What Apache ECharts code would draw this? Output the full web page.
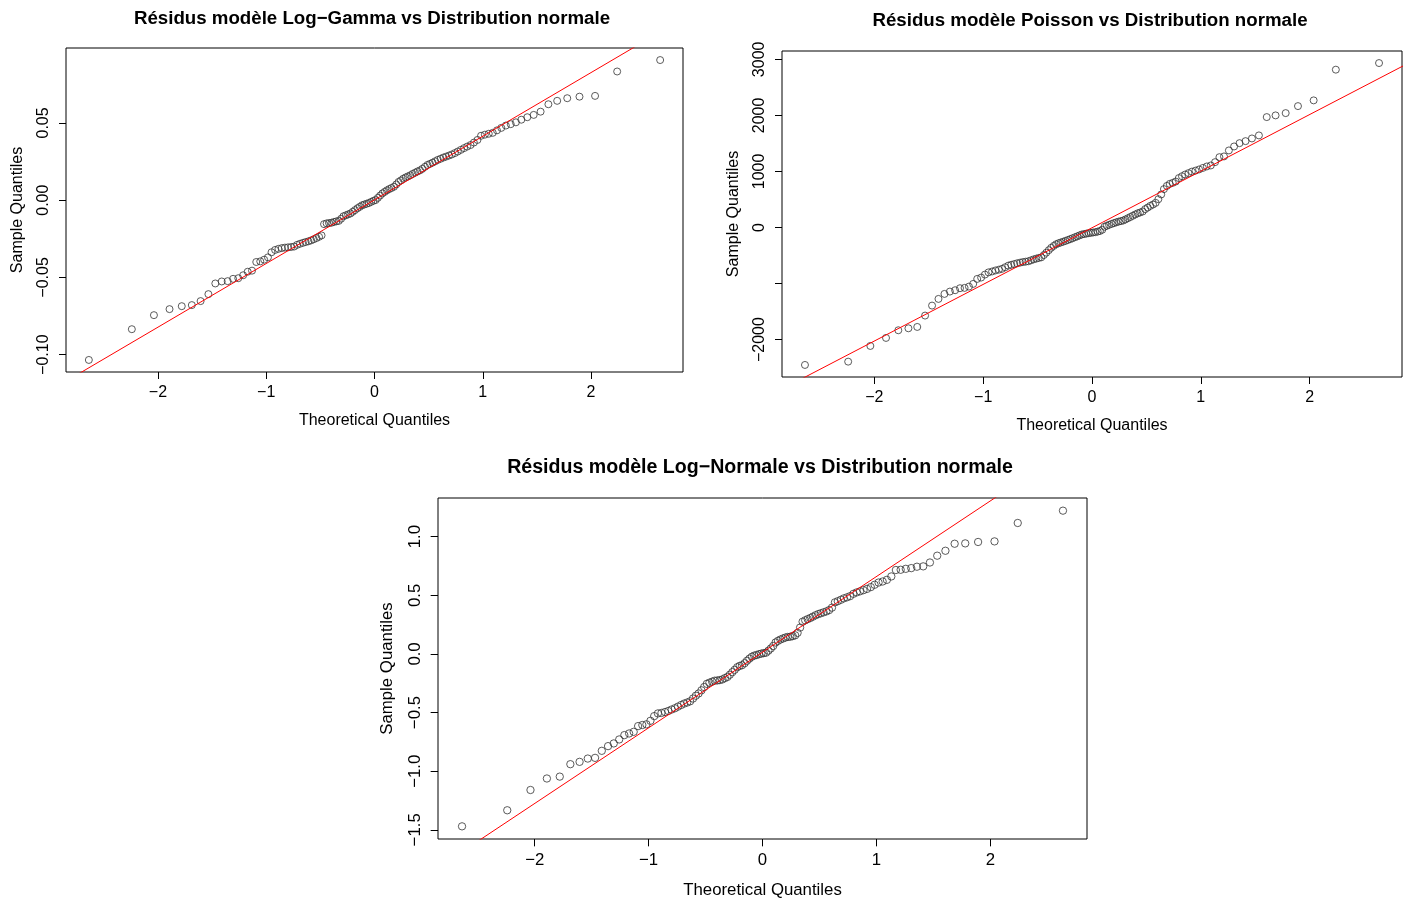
<!DOCTYPE html>
<html><head><meta charset="utf-8">
<script src="https://cdn.jsdelivr.net/npm/echarts@6/dist/echarts.min.js"></script>
<style>html,body{margin:0;padding:0;background:#fff}#c{width:1413px;height:900px}</style>
</head><body><div id="c"></div>
<script>
// Theoretical normal quantiles (n = 120)
const theoQ = [
-2.638,-2.241,-2.037,-1.893,-1.780,-1.687,-1.606,-1.534,-1.470,-1.411,
-1.356,-1.306,-1.258,-1.213,-1.171,-1.131,-1.092,-1.055,-1.019,-0.984,
-0.951,-0.918,-0.887,-0.856,-0.827,-0.798,-0.769,-0.742,-0.714,-0.688,
-0.661,-0.636,-0.610,-0.585,-0.561,-0.536,-0.512,-0.489,-0.466,-0.442,
-0.420,-0.397,-0.375,-0.352,-0.330,-0.308,-0.287,-0.265,-0.244,-0.222,
-0.201,-0.180,-0.157,-0.136,-0.115,-0.094,-0.073,-0.052,-0.031,-0.010,
0.010,0.031,0.052,0.073,0.094,0.115,0.136,0.157,0.180,0.201,
0.222,0.244,0.265,0.287,0.308,0.330,0.352,0.375,0.397,0.420,
0.442,0.466,0.489,0.512,0.536,0.561,0.585,0.610,0.636,0.661,
0.688,0.714,0.742,0.769,0.798,0.827,0.856,0.887,0.918,0.951,
0.984,1.019,1.055,1.092,1.131,1.171,1.213,1.258,1.306,1.356,
1.411,1.470,1.534,1.606,1.687,1.780,1.893,2.037,2.241,2.638];

const resGamma = [
-0.1034,-0.0835,-0.0744,-0.0705,-0.0686,-0.0679,-0.0653,-0.0608,-0.0539,-0.0526,
-0.0524,-0.0509,-0.0505,-0.0486,-0.0463,-0.0456,-0.0400,-0.0396,-0.0385,-0.0370,
-0.0337,-0.0322,-0.0315,-0.0310,-0.0307,-0.0305,-0.0303,-0.0300,-0.0289,-0.0282,
-0.0276,-0.0271,-0.0266,-0.0260,-0.0253,-0.0245,-0.0237,-0.0228,-0.0155,-0.0150,
-0.0148,-0.0146,-0.0141,-0.0137,-0.0134,-0.0120,-0.0104,-0.0098,-0.0092,-0.0086,
-0.0075,-0.0064,-0.0052,-0.0043,-0.0033,-0.0028,-0.0023,-0.0018,-0.0011,-0.0004,
0.0001,0.0015,0.0030,0.0044,0.0054,0.0064,0.0072,0.0079,0.0087,0.0102,
0.0118,0.0128,0.0139,0.0147,0.0154,0.0161,0.0170,0.0178,0.0186,0.0193,
0.0203,0.0216,0.0228,0.0235,0.0243,0.0252,0.0261,0.0268,0.0276,0.0282,
0.0289,0.0296,0.0305,0.0315,0.0326,0.0337,0.0347,0.0357,0.0373,0.0390,
0.0417,0.0424,0.0430,0.0436,0.0452,0.0468,0.0483,0.0492,0.0504,0.0521,
0.0537,0.0552,0.0573,0.0621,0.0643,0.0660,0.0670,0.0675,0.0833,0.0907];

const resPoisson = [
-2452,-2393,-2113,-1970,-1833,-1798,-1774,-1571,-1393,-1274,
-1185,-1143,-1119,-1083,-1077,-1054,-1006,-917,-893,-840,
-800,-784,-766,-752,-737,-709,-680,-665,-652,-638,
-627,-617,-610,-602,-586,-568,-555,-543,-532,-491,
-449,-404,-362,-328,-299,-281,-267,-253,-239,-223,
-208,-192,-174,-158,-141,-125,-117,-109,-101,-95,
-89,-83,-73,-62,-40,14,31,48,64,78,
92,105,114,125,144,166,187,210,232,253,
268,286,328,356,386,410,440,505,590,685,
742,778,797,820,882,915,945,970,997,1015,
1036,1063,1089,1107,1166,1255,1268,1375,1446,1505,
1541,1589,1643,1970,2000,2041,2166,2268,2816,2934];

const resLogNormal = [
-1.470,-1.333,-1.160,-1.062,-1.046,-0.940,-0.920,-0.892,-0.886,-0.826,
-0.786,-0.763,-0.729,-0.692,-0.678,-0.664,-0.615,-0.606,-0.600,-0.570,
-0.530,-0.507,-0.503,-0.495,-0.486,-0.474,-0.463,-0.449,-0.435,-0.423,
-0.414,-0.404,-0.380,-0.356,-0.337,-0.310,-0.282,-0.255,-0.245,-0.236,
-0.228,-0.226,-0.223,-0.217,-0.206,-0.196,-0.177,-0.155,-0.135,-0.113,
-0.102,-0.096,-0.079,-0.058,-0.040,-0.024,-0.014,-0.009,-0.002,0.003,
0.007,0.011,0.028,0.047,0.068,0.098,0.112,0.123,0.132,0.140,
0.145,0.147,0.152,0.159,0.180,0.225,0.275,0.287,0.297,0.307,
0.318,0.330,0.340,0.347,0.355,0.363,0.374,0.395,0.440,0.450,
0.462,0.474,0.483,0.493,0.513,0.525,0.534,0.544,0.555,0.570,
0.590,0.609,0.618,0.632,0.661,0.716,0.718,0.726,0.732,0.744,
0.747,0.780,0.838,0.880,0.940,0.943,0.955,0.960,1.117,1.222];

// qqline endpoints (x, y) for each panel
const lineGamma = [[-3, -0.1234], [3, 0.1238]];
const linePoisson = [[-3, -3035], [3, 3025]];
const lineLogNormal = [[-3, -1.920], [3, 1.950]];

// tick positions and labels
const xTicks = [-2, -1, 0, 1, 2];
const yTicksGamma = [-0.10, -0.05, 0.00, 0.05];
const yTicksPoisson = [-2000, -1000, 0, 1000, 2000, 3000];
const yLabelsPoisson = [-2000, 0, 1000, 2000, 3000];
const yTicksLogNormal = [-1.5, -1.0, -0.5, 0.0, 0.5, 1.0];

const titles = [
  'Résidus modèle Log\u2212Gamma vs Distribution normale',
  'Résidus modèle Poisson vs Distribution normale',
  'Résidus modèle Log\u2212Normale vs Distribution normale'
];
const xName = 'Theoretical Quantiles';
const yName = 'Sample Quantiles';

const FONT = '"Liberation Sans", Arial, sans-serif';
const fmt = d => v => (v < 0 ? '\u2212' : '') + Math.abs(v).toFixed(d);

const panels = [
  {grid:{left:66, top:48, width:617, height:324}, xr:[-2.849,2.849], yr:[-0.1112,0.0985], s:1,
   yt:yTicksGamma, yl:yTicksGamma, yd:2, res:resGamma, line:lineGamma, title:[372,19], xGap:41, yGap:40},
  {grid:{left:782, top:51, width:620, height:326}, xr:[-2.849,2.849], yr:[-2667,3149], s:1,
   yt:yTicksPoisson, yl:yLabelsPoisson, yd:0, res:resPoisson, line:linePoisson, title:[1090,21], xGap:41, yGap:40},
  {grid:{left:438, top:498, width:649, height:341}, xr:[-2.849,2.849], yr:[-1.578,1.330], s:1.05,
   yt:yTicksLogNormal, yl:yTicksLogNormal, yd:1, res:resLogNormal, line:lineLogNormal, title:[760,468], xGap:43, yGap:42}
];

const grid = [], xAxis = [], yAxis = [], series = [], graphic = [];
panels.forEach((p, k) => {
  const fs = 16 * p.s;
  grid.push(Object.assign({show:true, borderColor:'#000', borderWidth:1, backgroundColor:'rgba(0,0,0,0)'}, p.grid));
  xAxis.push({
    type:'value', gridIndex:k, min:p.xr[0], max:p.xr[1],
    name:xName, nameLocation:'middle', nameGap:p.xGap,
    nameTextStyle:{fontFamily:FONT, fontSize:fs, color:'#000'},
    axisLine:{show:false, onZero:false}, splitLine:{show:false},
    axisTick:{show:true, length:7 * p.s, customValues:xTicks, lineStyle:{color:'#000', width:1}},
    axisLabel:{customValues:xTicks, margin:13, fontFamily:FONT, fontSize:fs, color:'#000', formatter:fmt(0)}
  });
  yAxis.push({
    type:'value', gridIndex:k, min:p.yr[0], max:p.yr[1],
    name:yName, nameLocation:'middle', nameGap:p.yGap,
    nameTextStyle:{fontFamily:FONT, fontSize:fs, color:'#000'},
    axisLine:{show:false, onZero:false}, splitLine:{show:false},
    axisTick:{show:true, length:7 * p.s, customValues:p.yt, lineStyle:{color:'#000', width:1}},
    axisLabel:{customValues:p.yl, rotate:90, margin:14, fontFamily:FONT, fontSize:fs, color:'#000', formatter:fmt(p.yd)}
  });
  series.push({
    type:'scatter', xAxisIndex:k, yAxisIndex:k, symbol:'circle', symbolSize:7 * p.s,
    itemStyle:{color:'rgba(0,0,0,0)', borderColor:'#333', borderWidth:1},
    data: theoQ.map((q, i) => [q, p.res[i]]), silent:true, z:2
  });
  series.push({
    type:'line', xAxisIndex:k, yAxisIndex:k, data:p.line, symbol:'none', clip:true,
    lineStyle:{color:'#ff0000', width:1}, silent:true, z:3
  });
  graphic.push({
    type:'text', x:p.title[0], y:p.title[1],
    style:{text:titles[k], font:'bold ' + (18.7 * p.s).toFixed(1) + 'px ' + FONT, fill:'#000',
           textAlign:'center', textVerticalAlign:'middle', align:'center', verticalAlign:'middle'}
  });
});

const chart = echarts.init(document.getElementById('c'), null, {renderer:'canvas'});
chart.setOption({animation:false, backgroundColor:'#fff', grid, xAxis, yAxis, series, graphic});
</script></body></html>
